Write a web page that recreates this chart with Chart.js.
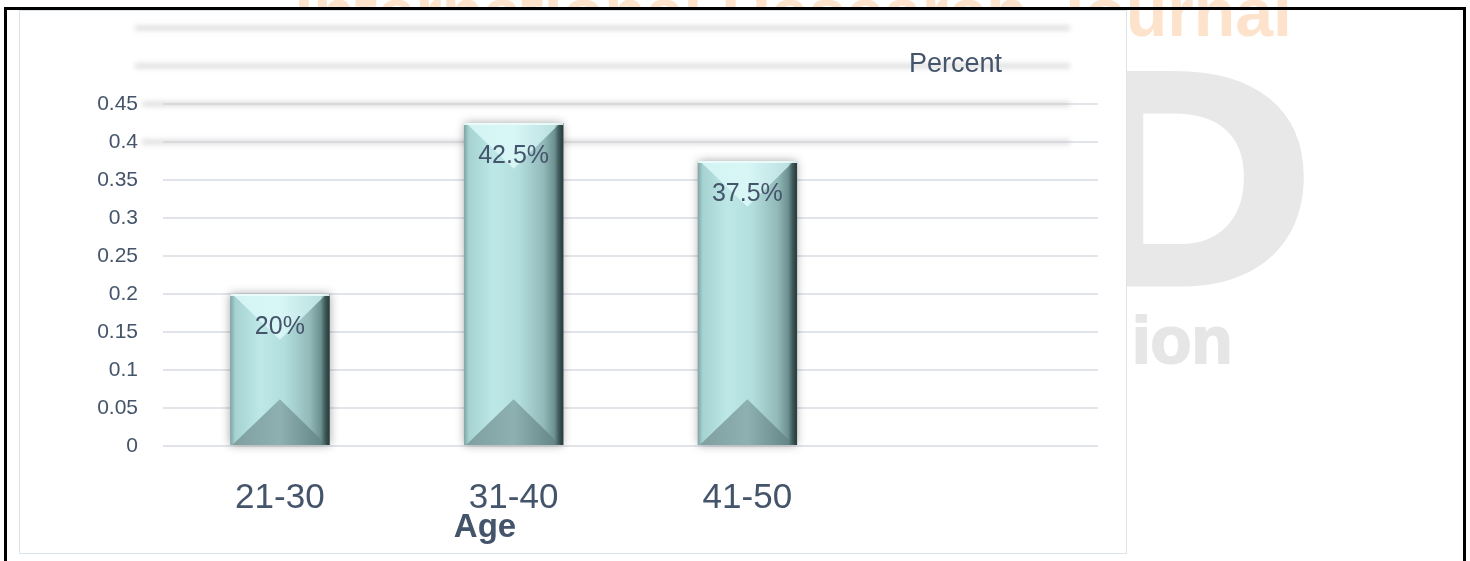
<!DOCTYPE html>
<html>
<head>
<meta charset="utf-8">
<script src="https://cdn.jsdelivr.net/npm/chart.js@4.4.0/dist/chart.umd.min.js"></script>
<style>
  html, body { margin: 0; padding: 0; background: #fff; width: 1470px; height: 561px; overflow: hidden; }
  /* watermark of the journal page, only visible outside the chart box */
  #wm { position: absolute; left: 0; top: 0; width: 1470px; height: 561px; overflow: hidden;
        clip-path: polygon(0 0, 1470px 0, 1470px 561px, 1127px 561px, 1127px 10px, 0 10px); }
  .wm { position: absolute; font-family: "Liberation Sans", Arial, sans-serif; font-weight: bold; line-height: 1; white-space: nowrap; }
  #wmTop { right: 178px; top: -22px; font-size: 68px; color: #fde3cc; }
  #wmD { left: 1066px; top: 28px; font-size: 300px; color: #e8e8e8; -webkit-text-stroke: 9px #e8e8e8; transform: scaleX(1.14); transform-origin: 0 0; }
  #wmIon { left: 1132px; top: 306px; font-size: 67px; color: #e6e6e6; -webkit-text-stroke: 2px #e6e6e6; }
  #frame { position: absolute; left: 4px; top: 7px; width: 1462px; height: 600px; border: 3px solid #000; box-sizing: border-box; }
  #box { position: absolute; left: 19px; top: 10px; width: 1108px; height: 544px; border: 1px solid #dde3ea; box-sizing: border-box; background: #fff; }
</style>
</head>
<body>
<div id="wm">
  <div class="wm" id="wmTop">International Research Journal</div>
  <div class="wm" id="wmD">D</div>
  <div class="wm" id="wmIon">ion</div>
</div>
<div id="box"><canvas id="ageChart"></canvas></div>
<div id="frame"></div>

<script>
// data
const ageGroups = ["21-30", "31-40", "41-50", ""];
const percentValues = [0.2, 0.425, 0.375, null];
const yTickLabels = ["0", "0.05", "0.1", "0.15", "0.2", "0.25", "0.3", "0.35", "0.4", "0.45"];
const seriesName = "Percent";
const axisTitle = "Age";

const textColor = "#44546a";
const fontFamily = '"Liberation Sans", Arial, sans-serif';

// soft grey lines Excel draws on the upper part of the plot
const softLines = {
  id: "softLines",
  beforeDatasetsDraw(chart) {
    const ctx = chart.ctx;
    const y = chart.scales.y;
    ctx.save();
    ctx.filter = "blur(2.5px)";
    ctx.strokeStyle = "rgba(200,200,200,0.6)";
    ctx.lineWidth = 5;
    [0.4, 0.45, 0.5, 0.55].forEach(function (v) {
      const py = y.getPixelForValue(v);
      ctx.beginPath();
      ctx.moveTo(v > 0.45 ? 115 : 122, py);
      ctx.lineTo(1050, py);
      ctx.stroke();
    });
    ctx.restore();
  }
};

// bevelled bars
function drawBevel(ctx, cx, top, bottom, w) {
  const l = cx - w / 2, r = cx + w / 2, h = bottom - top;
  const d = Math.min(w / 2 - 4, h / 2);

  ctx.save();
  ctx.shadowColor = "rgba(0,0,0,0.35)";
  ctx.shadowBlur = 9;
  const g = ctx.createLinearGradient(l, 0, r, 0);
  g.addColorStop(0, "#7fa3a3");
  g.addColorStop(0.05, "#a6d2d2");
  g.addColorStop(0.3, "#bee8e8");
  g.addColorStop(0.55, "#b3dede");
  g.addColorStop(0.8, "#93b9b9");
  g.addColorStop(0.93, "#678a8a");
  g.addColorStop(1, "#34494a");
  ctx.fillStyle = g;
  ctx.fillRect(l, top, w, h);
  ctx.restore();

  // top facet
  const gt = ctx.createLinearGradient(l, 0, r, 0);
  gt.addColorStop(0, "#d3f3f3");
  gt.addColorStop(0.5, "#d8f6f6");
  gt.addColorStop(1, "#b5dcdc");
  ctx.fillStyle = gt;
  ctx.beginPath();
  ctx.moveTo(l + 2, top);
  ctx.lineTo(r - 3, top);
  ctx.lineTo(cx, top + d);
  ctx.closePath();
  ctx.fill();

  // bottom facet
  const gb = ctx.createLinearGradient(l, 0, r, 0);
  gb.addColorStop(0, "#809f9f");
  gb.addColorStop(0.5, "#8db0b0");
  gb.addColorStop(1, "#5e7e7e");
  ctx.fillStyle = gb;
  ctx.beginPath();
  ctx.moveTo(l + 2, bottom);
  ctx.lineTo(r - 3, bottom);
  ctx.lineTo(cx, bottom - d);
  ctx.closePath();
  ctx.fill();

  // dark right rim
  const gr = ctx.createLinearGradient(r - 9, 0, r, 0);
  gr.addColorStop(0, "rgba(40,62,62,0)");
  gr.addColorStop(1, "rgba(40,62,62,0.9)");
  ctx.fillStyle = gr;
  ctx.fillRect(r - 9, top, 9, h);
  // light top edge
  ctx.fillStyle = "rgba(235,252,252,0.9)";
  ctx.fillRect(l, top, w, 2);
}

const bevelBars = {
  id: "bevelBars",
  afterDatasetsDraw(chart) {
    const ctx = chart.ctx;
    const meta = chart.getDatasetMeta(0);
    meta.data.forEach(function (bar, i) {
      if (percentValues[i] == null) return;
      const p = bar.getProps(["x", "y", "base", "width"], true);
      drawBevel(ctx, p.x, p.y, p.base, p.width);
    });
    // value labels
    ctx.save();
    ctx.fillStyle = textColor;
    ctx.font = "25px " + fontFamily;
    ctx.textAlign = "center";
    ctx.textBaseline = "alphabetic";
    meta.data.forEach(function (bar, i) {
      const v = percentValues[i];
      if (v == null) return;
      ctx.fillText(Math.round(v * 1000) / 10 + "%", bar.x, bar.y + 40);
    });
    ctx.restore();
  }
};

// series name and axis title as Excel placed them
const chartTexts = {
  id: "chartTexts",
  afterDraw(chart) {
    const ctx = chart.ctx;
    ctx.save();
    ctx.fillStyle = textColor;
    ctx.textBaseline = "alphabetic";
    ctx.font = "27px " + fontFamily;
    ctx.textAlign = "left";
    ctx.fillText(seriesName, 889, 61);
    ctx.font = "bold 33px " + fontFamily;
    ctx.textAlign = "center";
    ctx.fillText(axisTitle, 465, 526);
    ctx.restore();
  }
};

const ctx = document.getElementById("ageChart");
new Chart(ctx, {
  type: "bar",
  data: {
    labels: ageGroups,
    datasets: [
      {
        label: seriesName,
        data: percentValues,
        backgroundColor: "rgba(0,0,0,0)",
        borderWidth: 0,
        barPercentage: 0.425,
        categoryPercentage: 1.0,
      },
    ],
  },
  options: {
    responsive: true,
    maintainAspectRatio: false,
    animation: false,
    devicePixelRatio: 1,
    layout: { padding: { left: 0, right: 28, top: 93, bottom: 0 } },
    plugins: { legend: { display: false }, tooltip: { enabled: false } },
    scales: {
      x: {
        grid: { display: false, drawTicks: false },
        border: { display: false },
        ticks: {
          color: textColor,
          font: { family: fontFamily, size: 35 },
          padding: 31,
          maxRotation: 0,
          autoSkip: false,
        },
        afterFit(scale) { scale.height = 107; },
      },
      y: {
        min: 0,
        max: 0.45,
        grid: { color: "#e1e5ea", lineWidth: 2, drawTicks: false },
        border: { display: false },
        ticks: {
          stepSize: 0.05,
          color: textColor,
          font: { family: fontFamily, size: 21 },
          padding: 25,
          callback: function (v, i) { return yTickLabels[i]; },
        },
        afterFit(scale) { scale.width = 143; },
      },
    },
  },
  plugins: [softLines, bevelBars, chartTexts],
});
</script>
</body>
</html>
